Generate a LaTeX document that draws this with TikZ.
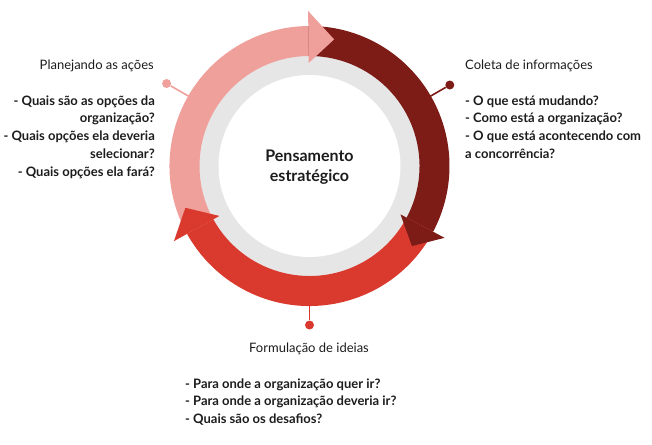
\documentclass[tikz,border=0pt]{standalone}
\usepackage{fontspec}
\setmainfont{Lato}
\usetikzlibrary{calc}
\definecolor{pinkc}{RGB}{239,160,155}
\definecolor{darkc}{RGB}{125,27,22}
\definecolor{redc}{RGB}{218,58,46}
\definecolor{ringgray}{RGB}{230,230,230}
\definecolor{txt}{RGB}{28,28,28}
\begin{document}
\begin{tikzpicture}[x=1pt,y=1pt,
  lbl/.style={font=\fontsize{13}{17.8}\selectfont, text=txt, inner sep=0pt},
  lst/.style={font=\fontsize{13}{17.8}\selectfont\bfseries, text=txt, inner sep=0pt},
  pinline/.style={line width=1.6pt},
  pindot/.style={circle, inner sep=0pt, minimum size=9pt}]
\useasboundingbox (0,0) rectangle (652,-444);
\coordinate (C) at (309.5,-166);
% pins (under the ring)
\coordinate (pl) at ($(C)+(150:130)$);
\node[pindot, fill=pinkc] (dl) at ($(C)+(150:165)$) {};
\draw[pinline, pinkc] (pl) -- (dl);
\coordinate (pr) at ($(C)+(30:130)$);
\node[pindot, fill=darkc] (dr) at ($(C)+(30:162)$) {};
\draw[pinline, darkc] (pr) -- (dr);
\coordinate (pb) at ($(C)+(-90:130)$);
\node[pindot, fill=redc] (db) at ($(C)+(-90:159)$) {};
\draw[pinline, redc] (pb) -- (db);
% inner discs
\fill[ringgray] (C) circle (113);
\fill[white] (C) circle (91);
% ring bodies
\fill[pinkc, shift={(C)}] (209:140) arc[start angle=209,end angle=90.5,radius=140] -- (90.5:110) arc[start angle=90.5,end angle=209,radius=110] -- cycle;
\fill[darkc, shift={(C)}] (90.5:140) arc[start angle=90.5,end angle=-28,radius=140] -- (-28:110) arc[start angle=-28,end angle=90.5,radius=110] -- cycle;
\fill[redc, shift={(C)}] (-28:140) arc[start angle=-28,end angle=-151,radius=140] -- (-151:110) arc[start angle=-151,end angle=-28,radius=110] -- cycle;
% arrow heads
\fill[pinkc, shift={(C)}] (90.5:155) -- (79:129) -- (90.5:103) -- cycle;
\fill[darkc, shift={(C)}] (-28:153) -- (-38:130) -- (-28:103) -- cycle;
\fill[redc, shift={(C)}] (209:155) -- (198.6:131) -- (209:103) -- cycle;
% centre text
\node[font=\fontsize{16}{20}\selectfont\bfseries, align=center, text=txt, inner sep=0pt, anchor=north] (ct) at (309.5,-150.2) {Pensamento\\estratégico};
% left block
\node[lbl, anchor=base east] (tl) at (154,-70) {Planejando as ações};
\node[lst, anchor=north east, align=right] (ll) at (155,-95.3) {- Quais são as opções da\\organização?\\- Quais opções ela deveria\\selecionar?\\- Quais opções ela fará?};
% right block
\node[lbl, anchor=base west] (tr) at (465,-70) {Coleta de informações};
\node[lst, anchor=north west, align=left] (lr) at (465,-95.3) {- O que está mudando?\\- Como está a organização?\\- O que está acontecendo com\\a concorrência?};
% bottom block
\node[lbl, anchor=base] (tb) at (309,-352) {Formulação de ideias};
\node[lst, anchor=north west, align=left] (lb) at (185,-378.3) {- Para onde a organização quer ir?\\- Para onde a organização deveria ir?\\- Quais são os desafios?};
\end{tikzpicture}
\end{document}
